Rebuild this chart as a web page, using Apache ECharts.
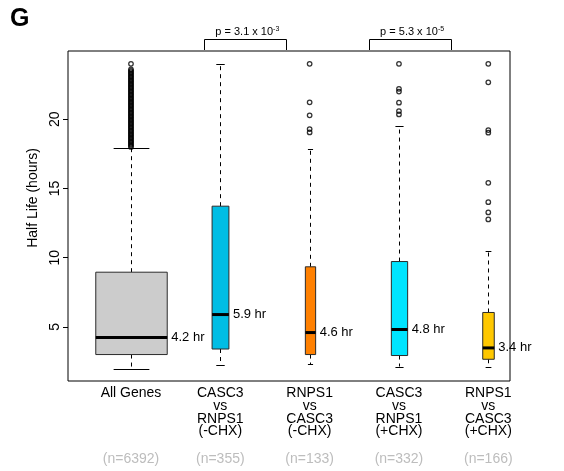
<!DOCTYPE html>
<html><head><meta charset="utf-8">
<script src="https://cdn.jsdelivr.net/npm/echarts@6/dist/echarts.min.js"></script>
<style>html,body{margin:0;padding:0;background:#fff}#c{width:564px;height:471px}</style>
</head><body><div id="c"></div>
<script>
// ---------- data ----------
const categories = ['All Genes', 'CASC3\nvs\nRNPS1\n(-CHX)', 'RNPS1\nvs\nCASC3\n(-CHX)', 'CASC3\nvs\nRNPS1\n(+CHX)', 'RNPS1\nvs\nCASC3\n(+CHX)'];
const counts = [6392, 355, 133, 332, 166];
const whiskerLow = [1.99, 2.23, 2.30, 2.13, 2.13];
const quartile1 = [3.00, 3.40, 3.00, 2.93, 2.66];
const medians = [4.23, 5.89, 4.59, 4.81, 3.48];
const quartile3 = [8.95, 13.72, 9.34, 9.72, 6.04];
const whiskerHigh = [17.90, 24.00, 17.82, 19.51, 10.45];
const medianLabels = ['4.2 hr', '5.9 hr', '4.6 hr', '4.8 hr', '3.4 hr'];
const outliersAllGenes = [24.0, 23.6, 23.5, 23.4, 23.3, 23.2, 23.1, 23.0, 22.9, 22.8, 22.7, 22.6, 22.5, 22.4, 22.3, 22.2, 22.1, 22.0,
  21.9, 21.8, 21.7, 21.6, 21.5, 21.4, 21.3, 21.2, 21.1, 21.0, 20.9, 20.8, 20.7, 20.6, 20.5, 20.4, 20.3, 20.2, 20.1, 20.0,
  19.9, 19.8, 19.7, 19.6, 19.5, 19.4, 19.3, 19.2, 19.1, 19.0, 18.9, 18.8, 18.7, 18.6, 18.5, 18.4, 18.3, 18.2, 18.1, 18.0];
const outliersCASC3minus = [];
const outliersRNPS1minus = [24.0, 21.22, 20.28, 19.29, 19.05];
const outliersCASC3plus = [24.0, 22.2, 22.0, 21.2, 20.59, 20.35];
const outliersRNPS1plus = [24.0, 22.67, 19.22, 19.03, 15.41, 14.01, 13.27, 12.76];
const yTicks = [5, 10, 15, 20];
const pLabels = [['3.1', '-3'], ['5.3', '-5']];

// ---------- build ----------
const fills = ['#cccccc', '#00bde4', '#ff8000', '#00e4ff', '#ffc800'];
const nMax = Math.max(...counts);
const boxRows = categories.map((c, i) => [i + 1, whiskerLow[i], quartile1[i], medians[i], quartile3[i], whiskerHigh[i], counts[i]]);
const outlierSets = [outliersAllGenes, outliersCASC3minus, outliersRNPS1minus, outliersCASC3plus, outliersRNPS1plus];
const outlierData = [];
outlierSets.forEach((arr, i) => arr.forEach(v => outlierData.push([i + 1, v])));

const FONT = '"Liberation Sans", Arial, Helvetica, sans-serif';
const chart = echarts.init(document.getElementById('c'), null, { renderer: 'canvas' });

const option = {
  animation: false,
  backgroundColor: '#fff',
  textStyle: { fontFamily: FONT },
  grid: { left: 68, right: 54, top: 51, bottom: 90, show: true, borderColor: '#000', borderWidth: 1, backgroundColor: 'transparent' },
  xAxis: [{
    type: 'value', min: 0.295, max: 5.243,
    axisLine: { show: false }, axisTick: { show: false }, splitLine: { show: false },
    axisLabel: {
      customValues: [1, 2, 3, 4, 5], margin: 6, color: '#000', fontSize: 14, lineHeight: 12.7, verticalAlign: 'top',
      formatter: v => categories[Math.round(v) - 1] || ''
    }
  }, {
    type: 'value', min: 0.295, max: 5.243, position: 'bottom',
    axisLine: { show: false }, axisTick: { show: false }, splitLine: { show: false },
    axisLabel: {
      customValues: [1, 2, 3, 4, 5], margin: 71, color: '#bdbdbd', fontSize: 14,
      formatter: v => '(n=' + counts[Math.round(v) - 1] + ')'
    }
  }],
  yAxis: {
    type: 'value', min: 1.09, max: 24.93,
    name: 'Half Life (hours)', nameLocation: 'middle', nameRotate: 90, nameGap: 28,
    nameTextStyle: { fontSize: 14, color: '#000', padding: [0, 0, 0, 36] },
    axisLine: { show: false },
    axisTick: { show: true, customValues: yTicks, length: 5, lineStyle: { color: '#000' } },
    axisLabel: { customValues: yTicks, rotate: 90, margin: 6, fontSize: 14, color: '#000' },
    splitLine: { show: false }
  },
  series: [{
    type: 'custom',
    data: boxRows,
    encode: { x: 0, y: [1, 2, 3, 4, 5] },
    renderItem: function (params, api) {
      const i = params.dataIndex;
      const x = api.value(0);
      const w = api.size([0.8 * Math.sqrt(api.value(6) / nMax), 0])[0];
      const lo = api.coord([x, api.value(1)]);
      const a = api.coord([x, api.value(2)]);
      const m = api.coord([x, api.value(3)]);
      const b = api.coord([x, api.value(4)]);
      const hi = api.coord([x, api.value(5)]);
      const cx = Math.round(m[0]) + 0.5;
      const half = w / 2;
      const dash = { stroke: '#000', lineWidth: 1, lineDash: [4, 4] };
      return {
        type: 'group', children: [
          { type: 'line', shape: { x1: cx, y1: b[1], x2: cx, y2: hi[1] }, style: dash },
          { type: 'line', shape: { x1: cx, y1: a[1], x2: cx, y2: lo[1] }, style: dash },
          { type: 'line', shape: { x1: cx - half / 2, y1: Math.round(hi[1]) + 0.5, x2: cx + half / 2, y2: Math.round(hi[1]) + 0.5 }, style: { stroke: '#000', lineWidth: 1 } },
          { type: 'line', shape: { x1: cx - half / 2, y1: Math.round(lo[1]) + 0.5, x2: cx + half / 2, y2: Math.round(lo[1]) + 0.5 }, style: { stroke: '#000', lineWidth: 1 } },
          { type: 'rect', shape: { x: cx - half, y: b[1], width: w, height: a[1] - b[1] }, style: { fill: fills[i], stroke: '#2b2b2b', lineWidth: 1 } },
          { type: 'line', shape: { x1: cx - half, y1: m[1], x2: cx + half, y2: m[1] }, style: { stroke: '#000', lineWidth: 3 } },
          { type: 'text', x: cx + half + 4, y: m[1], style: { text: medianLabels[i], fill: '#000', font: '13px ' + FONT, textAlign: 'left', textVerticalAlign: 'middle' } }
        ]
      };
    }
  }, {
    type: 'scatter',
    data: outlierData,
    symbol: 'circle', symbolSize: 4.5,
    itemStyle: { color: 'rgba(0,0,0,0)', borderColor: '#000', borderWidth: 1.3 },
    z: 3
  }]
};
chart.setOption(option);

// annotations: title letter and significance brackets
const bracketSpans = [[1.82, 2.74], [3.67, 4.58]];
const gridTop = chart.convertToPixel({ gridIndex: 0 }, [1, 24.93])[1];
const graphics = [{
  type: 'text', left: 10, top: 7,
  style: { text: 'G', font: 'bold 25px ' + FONT, fill: '#000' }
}];
bracketSpans.forEach((s, k) => {
  const p1 = chart.convertToPixel({ gridIndex: 0 }, [s[0], 24.93]);
  const p2 = chart.convertToPixel({ gridIndex: 0 }, [s[1], 24.93]);
  const yTop = Math.round(gridTop - 12) + 0.5;
  graphics.push({
    type: 'polyline',
    shape: { points: [[Math.round(p1[0]) + 0.5, gridTop - 1], [Math.round(p1[0]) + 0.5, yTop], [Math.round(p2[0]) + 0.5, yTop], [Math.round(p2[0]) + 0.5, gridTop - 1]] },
    style: { stroke: '#000', lineWidth: 1, fill: null }
  });
  graphics.push({
    type: 'text', x: (p1[0] + p2[0]) / 2 + 2, y: gridTop - 19,
    style: {
      text: '{a|p = ' + pLabels[k][0] + ' x 10}{s|' + pLabels[k][1] + '}',
      textAlign: 'center', textVerticalAlign: 'middle',
      rich: {
        a: { fontSize: 11, fontFamily: FONT, fill: '#000', lineHeight: 13 },
        s: { fontSize: 7, fontFamily: FONT, fill: '#000', verticalAlign: 'top', lineHeight: 13, padding: [0, 0, 4, 0] }
      }
    }
  });
});
chart.setOption({ graphic: graphics });
</script>
</body></html>
